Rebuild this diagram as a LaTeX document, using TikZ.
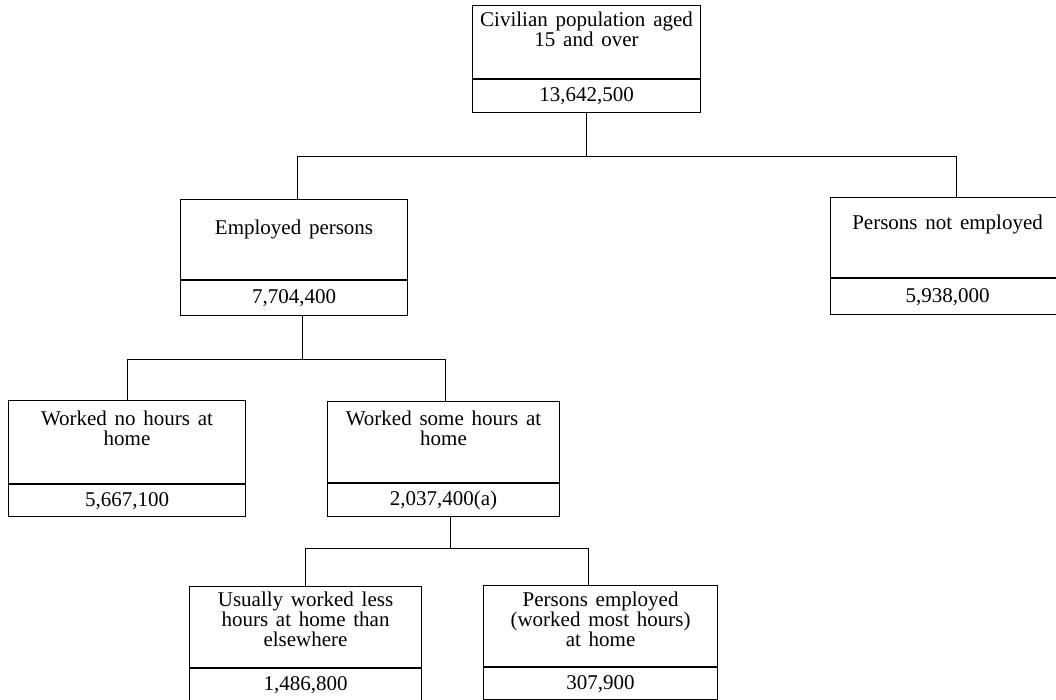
\documentclass[tikz,border=0pt]{standalone}
\usepackage{fontspec}
\setmainfont{Liberation Serif}
\usetikzlibrary{positioning}

% width, height, top gap, lines
\newcommand{\boxlines}[4]{\parbox[b][#2][t]{#1}{\centering\vspace*{#3}#4\par}}
\newcommand{\boxfont}{\fontsize{21}{20}\selectfont\spaceskip=0.37em\relax}

\tikzset{
  headbox/.style={draw, anchor=north west, inner sep=0pt, line width=1.1pt,
    font=\boxfont},
  numbox/.style={draw, inner sep=0pt, line width=1.1pt, minimum width=#1,
    minimum height=33pt, font=\boxfont},
  link/.style={line width=1.1pt},
}

\begin{document}
\begin{tikzpicture}[x=1pt,y=-1pt]
\useasboundingbox (0,0) rectangle (1056,699);

% top level
\node[headbox] (civ) at (472,5)
  {\boxlines{228pt}{73pt}{6pt}{Civilian population aged\\15 and over}};
\node[numbox=228pt, below=0pt of civ] (civ-num) {13,642,500};

% second level
\node[headbox] (emp) at (180,199)
  {\boxlines{227pt}{80pt}{20pt}{Employed persons}};
\node[numbox=227pt, minimum height=35pt, below=0pt of emp] (emp-num) {7,704,400};

\node[headbox] (notemp) at (830,197)
  {\boxlines{234pt}{80pt}{17pt}{Persons not employed}};
\node[numbox=234pt, minimum height=36pt, below=0pt of notemp] (notemp-num) {5,938,000};

% third level
\node[headbox] (nohrs) at (8,400)
  {\boxlines{237pt}{83pt}{10pt}{Worked no hours at\\home}};
\node[numbox=237pt, minimum height=32pt, below=0pt of nohrs] (nohrs-num) {5,667,100};

\node[headbox] (somehrs) at (327,401)
  {\boxlines{232pt}{81pt}{9pt}{Worked some hours at\\home}};
\node[numbox=232pt, below=0pt of somehrs] (somehrs-num) {2,037,400(a)};

% fourth level
\node[headbox] (less) at (189,586)
  {\boxlines{232pt}{81pt}{5pt}{Usually worked less\\hours at home than\\elsewhere}};
\node[numbox=232pt, minimum height=32pt, below=0pt of less] (less-num) {1,486,800};

\node[headbox] (most) at (483,585)
  {\boxlines{234pt}{81pt}{6pt}{Persons employed\\(worked most hours)\\at home}};
\node[numbox=234pt, minimum height=32pt, below=0pt of most] (most-num) {307,900};

% connectors
\draw[link] (civ-num.south) -- ++(0,43) coordinate (civ-bar);
\draw[link] ([xshift=3pt]emp.north) -- ([xshift=3pt]emp.north |- civ-bar)
  -- ([xshift=9pt]notemp.north |- civ-bar) -- ([xshift=9pt]notemp.north);

\draw[link] ([xshift=8pt]emp-num.south) -- ++(0,43) coordinate (emp-bar);
\draw[link] (nohrs.north) -- (nohrs.north |- emp-bar)
  -- ([xshift=2pt]somehrs.north |- emp-bar) -- ([xshift=2pt]somehrs.north);

\draw[link] ([xshift=7pt]somehrs-num.south) -- ++(0,31) coordinate (somehrs-bar);
\draw[link] (less.north) -- (less.north |- somehrs-bar)
  -- ([xshift=-12pt]most.north |- somehrs-bar) -- ([xshift=-12pt]most.north);

\end{tikzpicture}
\end{document}
